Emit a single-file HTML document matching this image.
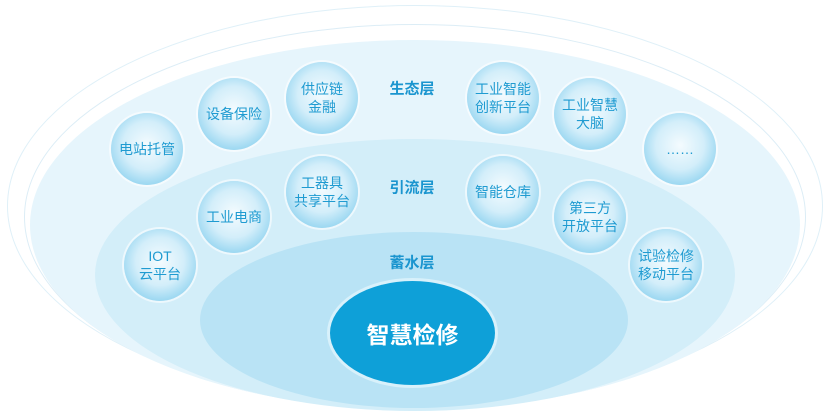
<!DOCTYPE html>
<html style="overflow:hidden;width:827px;height:415px"><head><meta charset="utf-8"><style>
html,body{margin:0;padding:0}
body{width:827px;height:415px;overflow:hidden;background:#fff;font-family:"Liberation Sans","Noto Sans CJK SC",sans-serif}
#w{position:relative;width:827px;height:415px;overflow:hidden}
.e{position:absolute;border-radius:50%}
.c{position:absolute;width:72px;height:72px;margin:-36px 0 0 -36px;border-radius:50%;background:radial-gradient(circle at 50% 45%,#f4fbfe 0%,#d3eefa 45%,#86cfee 85%,#5fbde6 100%);box-shadow:0 0 0 2px rgba(255,255,255,.6);display:flex;align-items:center;justify-content:center;text-align:center;color:#1f9bd1;font-size:14px;line-height:18px}
.t{position:absolute;transform:translate(-50%,-50%);color:#1a95cf;font-size:15px;font-weight:bold}
</style></head><body><div id="w">
<div class="e" style="left:7px;top:5px;width:814px;height:400px;border:1px solid #dff0f8"></div>
<div class="e" style="left:24px;top:24px;width:780px;height:384px;border:1px solid #dcedf6"></div>
<div class="e" style="left:30px;top:40px;width:770px;height:370px;background:#e6f5fc"></div>
<div class="e" style="left:95px;top:139px;width:640px;height:272px;background:#d3eef9"></div>
<div class="e" style="left:200px;top:232px;width:428px;height:176px;background:#b9e3f5"></div>
<div class="e" style="left:330px;top:281px;width:165px;height:104px;background:#0ea0d8;box-shadow:0 0 0 3px #d8f1fb;display:flex;align-items:center;justify-content:center;color:#fff;font-size:23px;font-weight:bold">智慧检修</div>
<div class="t" style="left:412px;top:88px">生态层</div>
<div class="t" style="left:412px;top:187px">引流层</div>
<div class="t" style="left:412px;top:262px">蓄水层</div>
<div class="c" style="left:147px;top:149px">电站托管</div>
<div class="c" style="left:234px;top:114px">设备保险</div>
<div class="c" style="left:322px;top:98px">供应链<br>金融</div>
<div class="c" style="left:503px;top:98px">工业智能<br>创新平台</div>
<div class="c" style="left:590px;top:114px">工业智慧<br>大脑</div>
<div class="c" style="left:680px;top:149px">……</div>
<div class="c" style="left:234px;top:217px">工业电商</div>
<div class="c" style="left:322px;top:192px">工器具<br>共享平台</div>
<div class="c" style="left:503px;top:192px">智能仓库</div>
<div class="c" style="left:590px;top:217px">第三方<br>开放平台</div>
<div class="c" style="left:160px;top:265px">IOT<br>云平台</div>
<div class="c" style="left:666px;top:265px">试验检修<br>移动平台</div>
</div></body></html>
